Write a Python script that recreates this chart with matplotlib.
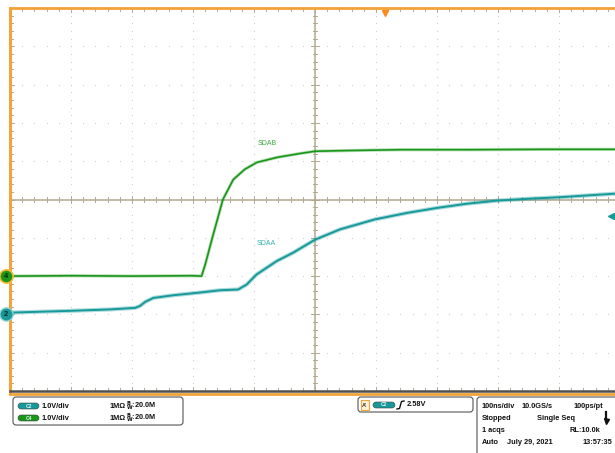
import matplotlib.pyplot as plt
from matplotlib.patches import FancyBboxPatch, Rectangle

plt.rcParams["font.family"] = ["Liberation Sans", "DejaVu Sans"]

# Scope settings
ns_per_div = 100
volts_per_div = 1.0
c4_offset_div = -2      # SDAB ground marker
c2_offset_div = -3      # SDAA ground marker
trigger_level = 2.58    # V on C2
trigger_pos_ns = 615

# SDAB (C4) trace, time in ns, volts
sdab_t = [0, 100, 200, 300, 314, 320, 331, 349, 366, 385, 405, 438, 475, 500, 560, 639, 750, 880, 1000]
sdab_v = [0.0, 0.01, 0.0, 0.01, 0.0, 0.30, 0.96, 2.00, 2.52, 2.79, 2.97, 3.10, 3.20, 3.26, 3.28, 3.30, 3.30, 3.31, 3.31]

# SDAA (C2) trace
sdaa_t = [0, 8, 93, 164, 205, 213, 222, 235, 268, 311, 344, 374, 388, 404, 437, 464, 500, 541, 598, 651, 700, 749, 798, 850, 902, 950, 1000]
sdaa_v = [0.04, 0.05, 0.09, 0.13, 0.17, 0.22, 0.33, 0.43, 0.50, 0.57, 0.63, 0.65, 0.78, 1.04, 1.39, 1.61, 1.95, 2.22, 2.48, 2.65, 2.78, 2.89, 2.97, 3.02, 3.06, 3.11, 3.16]

green = "#1a961a"
teal = "#17999a"
orange = "#f2a43a"
grid_c = "#c4c4c4"
center_c = "#b3a88f"

fig = plt.figure(figsize=(6.15, 4.53), dpi=100)

# overlay in pixel coordinates for the readout panels
ov = fig.add_axes([0, 0, 1, 1])
ov.set_xlim(0, 615)
ov.set_ylim(453, 0)
ov.axis("off")

# main graticule: x 10..620 px, y 8..391 px
ax = fig.add_axes([10 / 615, (453 - 391) / 453, 610 / 615, 383 / 453])
ax.set_facecolor("none")
ax.set_xlim(0, 10 * ns_per_div)
ax.set_ylim(-5, 5)
ax.axis("off")

# dotted major grid
minor_x = [i * ns_per_div / 5 for i in range(51)]
minor_y = [-5 + i * 0.2 for i in range(51)]
for k in range(1, 10):
    if k == 5:
        continue
    xv = k * ns_per_div
    ax.scatter([xv] * len(minor_y), minor_y, s=0.6, color=grid_c, lw=0, zorder=1)
    yv = k - 5
    ax.scatter(minor_x, [yv] * len(minor_x), s=0.6, color=grid_c, lw=0, zorder=1)

# center cross
ax.axvline(500, color=center_c, lw=1.1, zorder=1)
ax.axhline(0, color=center_c, lw=1.1, zorder=1)
dx = 3.6
dy = 0.06
tick_kw = dict(color=center_c, lw=0.7, zorder=1)
for i, yv in enumerate(minor_y):
    f = 1.6 if i % 5 == 0 else 1.0
    ax.plot([500 - dx * f, 500 + dx * f], [yv, yv], **tick_kw)
    ax.plot([0, dx * f * 1.2], [yv, yv], **tick_kw)
for i, xv in enumerate(minor_x):
    f = 1.6 if i % 5 == 0 else 1.0
    ax.plot([xv, xv], [-dy * f, dy * f], **tick_kw)
    ax.plot([xv, xv], [5, 5 - dy * f * 1.2], **tick_kw)
    ax.plot([xv, xv], [-5, -5 + dy * f * 1.2], **tick_kw)

# frame
ax.plot([0, 0], [-5.05, 5], color=orange, lw=2.2, clip_on=False, zorder=3)
ax.plot([0, 1000], [5, 5], color=orange, lw=2.0, clip_on=False, zorder=3)
ax.plot([0, 1000], [-5.07, -5.07], color=orange, lw=2.0, clip_on=False, zorder=3)
ax.plot([0, 1000], [-4.99, -4.99], color="#505050", lw=1.8, clip_on=False, zorder=3)

# traces
y4 = [v / volts_per_div + c4_offset_div for v in sdab_v]
y2 = [v / volts_per_div + c2_offset_div for v in sdaa_v]
ax.plot(sdab_t, y4, color=green, lw=2.4, alpha=0.3, zorder=4)
ax.plot(sdab_t, y4, color=green, lw=1.2, zorder=5)
ax.plot(sdaa_t, y2, color=teal, lw=3.0, alpha=0.35, zorder=4)
ax.plot(sdaa_t, y2, color=teal, lw=1.4, zorder=5)

ax.text(421, 1.45, "SDAB", color="#3aad3a", fontsize=5, ha="center", va="center")
ax.text(420, -1.16, "SDAA", color="#3ab3b3", fontsize=5, ha="center", va="center")

# channel ground markers
ax.plot(-7, c4_offset_div, "o", ms=9.5, mfc=green, mec="#f5b830", mew=1.2, clip_on=False, zorder=6)
ax.text(-7, c4_offset_div, "4", fontsize=5.5, fontweight="bold", color="#0c260c",
        ha="center", va="center", zorder=7)
ax.plot(-7, c2_offset_div, "o", ms=9.5, mfc=teal, mec="#8fd3d3", mew=1.0, clip_on=False, zorder=6)
ax.text(-7, c2_offset_div, "2", fontsize=5.5, fontweight="bold", color="#0c2626",
        ha="center", va="center", zorder=7)

# trigger markers
ax.plot(trigger_pos_ns, 4.88, "v", ms=5, color="#ff8a1c", clip_on=False, zorder=6)
trig_y = trigger_level / volts_per_div + c2_offset_div
ax.plot([985, 1000], [trig_y, trig_y], color=teal, lw=1.0, zorder=6)
ax.plot(985, trig_y, "<", ms=4, color=teal, zorder=6)

# readout panels
bold = dict(fontsize=5.3, fontweight="bold", color="#111111", va="center")


def pill(x0, yc, w, color, label):
    ov.add_patch(FancyBboxPatch((x0, yc - 3), w, 6, boxstyle="round,pad=0,rounding_size=3",
                                fc=color, ec="#444444", lw=0.4))
    ov.text(x0 + w / 2, yc, label, fontsize=3.5, fontweight="bold", color="#e8f5f5",
            ha="center", va="center")


ov.add_patch(FancyBboxPatch((13, 397), 170, 28, boxstyle="round,pad=0,rounding_size=3",
                            fc="white", ec="#555555", lw=0.8))
rows = [(406, teal, "C2"), (418, green, "C4")]
for yc, col, lab in rows:
    pill(18, yc, 21, col, lab)
    ov.text(42, yc, "1.0V/div", **bold)
    ov.text(109, yc, "1MΩ", **bold)
    ov.text(126.5, yc, r"$^{\mathbf{B}}_{\mathbf{W}}$:20.0M", **bold)

ov.add_patch(FancyBboxPatch((358, 397), 115, 15, boxstyle="round,pad=0,rounding_size=3",
                            fc="white", ec="#555555", lw=0.8))
ov.add_patch(Rectangle((361, 400), 8, 10, fc="#fdf3d8", ec=orange, lw=0.8))
ov.text(365, 405.5, "A'", fontsize=4, fontweight="bold", color="#333333", ha="center", va="center")
pill(373, 405, 22, teal, "C2")
ov.plot([397, 399.5, 401.5, 404], [409, 408.5, 401.5, 401], color="#111111", lw=1.0)
ov.text(407, 405, f"{trigger_level:.2f}V", **bold)

ov.add_patch(FancyBboxPatch((477, 397), 150, 70, boxstyle="round,pad=0,rounding_size=3",
                            fc="white", ec="#555555", lw=0.8))
ov.text(482, 406, "100ns/div", **bold)
ov.text(521, 406, "10.0GS/s", **bold)
ov.text(573, 406, "100ps/pt", **bold)
ov.text(482, 418, "Stopped", **bold)
ov.text(537, 418, "Single Seq", **bold)
ov.plot([606, 606], [412, 419], color="#111111", lw=1.6)
ov.plot(606, 421, "v", ms=3.6, color="#111111")
ov.text(482, 431, "1 acqs", **bold)
ov.text(570, 431, "RL:10.0k", **bold)
ov.text(482, 443, "Auto", **bold)
ov.text(507, 443, "July 29, 2021", **bold)
ov.text(612, 443, "13:57:35", ha="right", **bold)

fig.savefig("out.png", dpi=100)
